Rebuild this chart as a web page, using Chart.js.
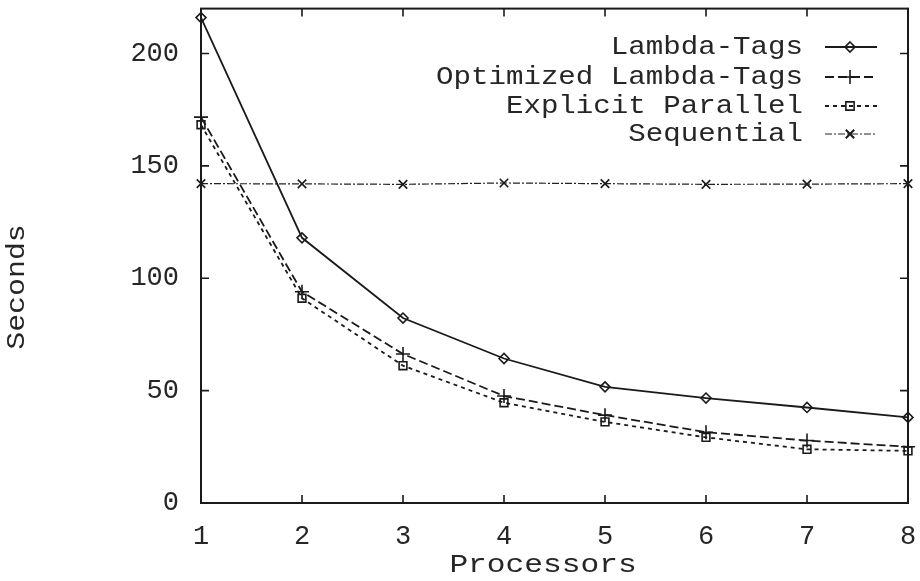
<!DOCTYPE html>
<html>
<head>
<meta charset="utf-8">
<script src="https://cdn.jsdelivr.net/npm/chart.js@4.4.1/dist/chart.umd.min.js"></script>
<style>
html,body{margin:0;padding:0;background:#fff;}
canvas{display:block;}
</style>
</head>
<body>
<canvas id="c" width="920" height="581"></canvas>
<script>
// ---- data ----
const categories = [1, 2, 3, 4, 5, 6, 7, 8];
const lambdaTags = [216, 118.0, 82.3, 64.3, 51.7, 46.7, 42.5, 38.1];
const optimizedLambdaTags = [171.7, 94.0, 66.3, 47.6, 39.1, 31.5, 27.8, 25.0];
const explicitParallel = [168.3, 91.1, 61.1, 44.6, 36.1, 29.2, 23.9, 23.2];
const sequential = [142.1, 142.0, 141.8, 142.4, 142.1, 141.8, 141.9, 142.1];
const seriesNames = ['Lambda-Tags', 'Optimized Lambda-Tags', 'Explicit Parallel', 'Sequential'];
const yTickValues = [0, 50, 100, 150, 200];
const xTickValues = categories;
const xTitle = 'Processors';
const yTitle = 'Seconds';

const FONT = '"Liberation Mono", "DejaVu Sans Mono", monospace';
const INK = '#1a1a1a';
const TEXT = '#262626';

function pts(arr) { return categories.map((c, i) => ({ x: c, y: arr[i] })); }

const styles = [
  { dash: [], width: 1.8, color: INK, point: 'rectRot', r: 5 },
  { dash: [9, 4], width: 1.8, color: INK, point: 'cross', r: 7 },
  { dash: [4, 4], width: 1.8, color: INK, point: 'rect', r: 5.5 },
  { dash: [7, 2, 2, 2], width: 1.2, color: '#222', point: 'crossRot', r: 6 }
];
const seriesData = [lambdaTags, optimizedLambdaTags, explicitParallel, sequential];

const datasets = seriesData.map((d, i) => ({
  label: seriesNames[i],
  data: pts(d),
  borderColor: styles[i].color,
  borderWidth: styles[i].width,
  borderDash: styles[i].dash,
  pointStyle: styles[i].point,
  pointRadius: styles[i].r,
  pointBorderWidth: 1.6,
  pointBorderColor: INK,
  pointBackgroundColor: 'rgba(0,0,0,0)',
  tension: 0,
  fill: false,
  clip: false
}));

function drawMarker(ctx, style, x, y, r) {
  ctx.save();
  ctx.setLineDash([]);
  ctx.lineWidth = 1.6;
  ctx.strokeStyle = INK;
  ctx.beginPath();
  if (style === 'rectRot') {
    ctx.moveTo(x, y - r); ctx.lineTo(x + r, y); ctx.lineTo(x, y + r); ctx.lineTo(x - r, y); ctx.closePath();
  } else if (style === 'cross') {
    ctx.moveTo(x - r, y); ctx.lineTo(x + r, y); ctx.moveTo(x, y - r); ctx.lineTo(x, y + r);
  } else if (style === 'rect') {
    const s = r * 0.75;
    ctx.rect(x - s, y - s, 2 * s, 2 * s);
  } else if (style === 'crossRot') {
    const s = r * 0.7;
    ctx.lineWidth = 2;
    ctx.moveTo(x - s, y - s); ctx.lineTo(x + s, y + s); ctx.moveTo(x + s, y - s); ctx.lineTo(x - s, y + s);
  }
  ctx.stroke();
  ctx.restore();
}

const framePlugin = {
  id: 'frame',
  beforeDatasetsDraw(chart) {
    const { ctx, chartArea: a, scales } = chart;
    ctx.save();
    ctx.strokeStyle = INK;
    ctx.lineWidth = 2;
    ctx.strokeRect(a.left, a.top, a.right - a.left, a.bottom - a.top);
    ctx.lineWidth = 1.6;
    const tl = 8;
    ctx.beginPath();
    xTickValues.forEach(v => {
      const px = scales.x.getPixelForValue(v);
      ctx.moveTo(px, a.bottom); ctx.lineTo(px, a.bottom - tl);
      ctx.moveTo(px, a.top); ctx.lineTo(px, a.top + tl);
    });
    yTickValues.forEach(v => {
      const py = scales.y.getPixelForValue(v);
      ctx.moveTo(a.left, py); ctx.lineTo(a.left + tl, py);
      ctx.moveTo(a.right, py); ctx.lineTo(a.right - tl, py);
    });
    ctx.stroke();
    ctx.restore();
  },
  afterDraw(chart) {
    const { ctx } = chart;
    ctx.save();
    ctx.fillStyle = TEXT;
    ctx.font = '26px ' + FONT;
    // x title
    ctx.save();
    ctx.translate(543, 565);
    ctx.scale(1.2, 1);
    ctx.textAlign = 'center';
    ctx.textBaseline = 'middle';
    ctx.fillText(xTitle, 0, 0);
    ctx.restore();
    // y title
    ctx.save();
    ctx.translate(17, 287);
    ctx.rotate(-Math.PI / 2);
    ctx.scale(1.15, 1);
    ctx.textAlign = 'center';
    ctx.textBaseline = 'middle';
    ctx.fillText(yTitle, 0, 0);
    ctx.restore();
    // legend
    const rows = [47, 77, 106, 134];
    seriesNames.forEach((name, i) => {
      const y = rows[i];
      ctx.save();
      ctx.translate(803, y);
      ctx.scale(1.12, 1);
      ctx.textAlign = 'right';
      ctx.textBaseline = 'middle';
      ctx.fillText(name, 0, 0);
      ctx.restore();
      ctx.save();
      ctx.strokeStyle = styles[i].color;
      ctx.lineWidth = styles[i].width;
      ctx.setLineDash(styles[i].dash);
      ctx.beginPath();
      ctx.moveTo(825, y); ctx.lineTo(877, y);
      ctx.stroke();
      ctx.restore();
      drawMarker(ctx, styles[i].point, 850, y, styles[i].r);
    });
    ctx.restore();
  }
};

new Chart(document.getElementById('c'), {
  type: 'line',
  data: { datasets },
  options: {
    responsive: false,
    devicePixelRatio: 1,
    animation: false,
    layout: { padding: { top: 8, right: 12, left: 0, bottom: 0 } },
    plugins: { legend: { display: false }, tooltip: { enabled: false } },
    scales: {
      x: {
        type: 'linear',
        min: 1, max: 8,
        afterBuildTicks(s) { s.ticks = xTickValues.map(v => ({ value: v })); },
        afterFit(s) { s.height = 78; s.paddingLeft = 0; s.paddingRight = 0; },
        grid: { display: false, drawTicks: false },
        border: { display: false },
        ticks: { color: TEXT, font: { family: FONT, size: 27 }, padding: 18, maxRotation: 0, autoSkip: false }
      },
      y: {
        type: 'linear',
        min: 0, max: 220,
        afterBuildTicks(s) { s.ticks = yTickValues.map(v => ({ value: v })); },
        afterFit(s) { s.width = 201; s.paddingTop = 0; s.paddingBottom = 0; },
        grid: { display: false, drawTicks: false },
        border: { display: false },
        ticks: { color: TEXT, font: { family: FONT, size: 27 }, padding: 22, autoSkip: false }
      }
    }
  },
  plugins: [framePlugin]
});
</script>
</body>
</html>
